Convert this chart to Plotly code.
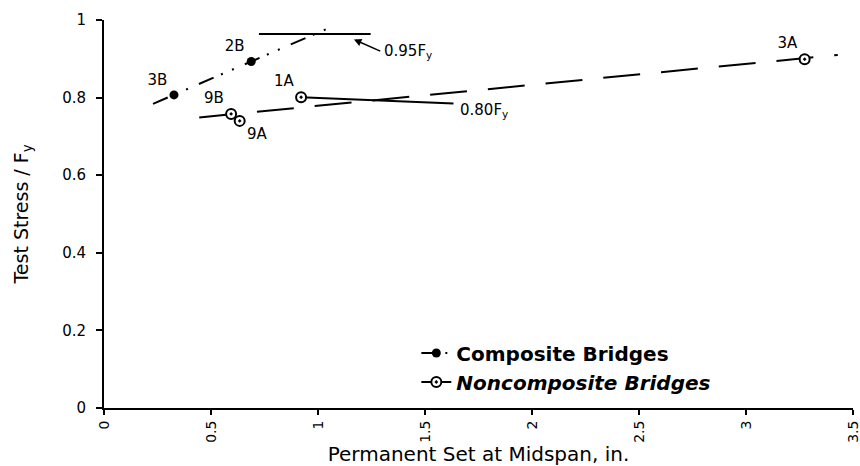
import plotly.graph_objects as go

# ---- data ----
comp_labels = ["3B", "2B"]
comp_x = [0.327, 0.688]
comp_y = [0.807, 0.893]

nonc_labels = ["9B", "9A", "1A", "3A"]
nonc_x = [0.594, 0.634, 0.921, 3.274]
nonc_y = [0.758, 0.740, 0.801, 0.899]

comp_fit_x = [0.229, 1.037]
comp_fit_y = [0.784, 0.976]

nonc_fit_x = [0.445, 3.429]
nonc_fit_y = [0.749, 0.910]

fy95_x = [0.724, 1.246]
fy95_y = [0.964, 0.964]

fy80_x = [0.921, 1.633]
fy80_y = [0.801, 0.785]

x_ticks = [0, 0.5, 1, 1.5, 2, 2.5, 3, 3.5]
x_tick_text = ["0", "0.5", "1", "1.5", "2", "2.5", "3", "3.5"]
y_ticks = [0, 0.2, 0.4, 0.6, 0.8, 1]
y_tick_text = ["0", "0.2", "0.4", "0.6", "0.8", "1"]

FONT = "DejaVu Sans"
COMP_DASH = "16px,8px,2px,10px,2px,12px"
NONC_DASH = "37px,21px"

fig = go.Figure()

# trend lines
fig.add_trace(go.Scatter(x=comp_fit_x, y=comp_fit_y, mode="lines",
                         line=dict(color="black", width=2, dash=COMP_DASH),
                         showlegend=False, hoverinfo="skip"))
fig.add_trace(go.Scatter(x=nonc_fit_x, y=nonc_fit_y, mode="lines",
                         line=dict(color="black", width=2, dash=NONC_DASH),
                         showlegend=False, hoverinfo="skip"))
# reference stress lines
fig.add_trace(go.Scatter(x=fy95_x, y=fy95_y, mode="lines",
                         line=dict(color="black", width=2),
                         showlegend=False, hoverinfo="skip"))
fig.add_trace(go.Scatter(x=fy80_x, y=fy80_y, mode="lines",
                         line=dict(color="black", width=2),
                         showlegend=False, hoverinfo="skip"))

# points
fig.add_trace(go.Scatter(x=comp_x, y=comp_y, mode="markers+text",
                         text=comp_labels, textposition=["top left", "top left"],
                         textfont=dict(family=FONT, size=15, color="black"),
                         marker=dict(symbol="circle", size=9, color="black"),
                         showlegend=False))
fig.add_trace(go.Scatter(x=nonc_x, y=nonc_y, mode="markers+text",
                         text=nonc_labels,
                         textposition=["top left", "bottom right", "top left", "top left"],
                         textfont=dict(family=FONT, size=15, color="black"),
                         marker=dict(symbol="circle-dot", size=10, color="white",
                                     line=dict(color="black", width=2)),
                         showlegend=False))

# legend-only entries
fig.add_trace(go.Scatter(x=[None], y=[None], mode="lines+markers",
                         name="<b>Composite Bridges</b>",
                         line=dict(color="black", width=2, dash=COMP_DASH),
                         marker=dict(symbol="circle", size=9, color="black")))
fig.add_trace(go.Scatter(x=[None], y=[None], mode="lines+markers",
                         name="<b><i>Noncomposite Bridges</i></b>",
                         line=dict(color="black", width=2, dash=NONC_DASH),
                         marker=dict(symbol="circle-dot", size=10, color="white",
                                     line=dict(color="black", width=2))))

fig.add_annotation(x=fy95_x[1] - 0.078, y=fy95_y[0] - 0.014, ax=1.298, ay=0.918,
                   xref="x", yref="y", axref="x", ayref="y",
                   showarrow=True, arrowhead=2, arrowsize=1, arrowwidth=1.5,
                   arrowcolor="black", text="")
fig.add_annotation(x=1.298, y=0.918, xref="x", yref="y", showarrow=False,
                   text="0.95F<sub>y</sub>", xanchor="left", yanchor="middle",
                   font=dict(family=FONT, size=15, color="black"))
fig.add_annotation(x=1.656, y=0.768, xref="x", yref="y", showarrow=False,
                   text="0.80F<sub>y</sub>", xanchor="left", yanchor="middle",
                   font=dict(family=FONT, size=15, color="black"))

fig.update_layout(
    width=860, height=466,
    margin=dict(l=104, r=7, t=20, b=58, autoexpand=False),
    plot_bgcolor="white", paper_bgcolor="white",
    font=dict(family=FONT, color="black"),
    legend=dict(x=0.417, y=0.192, xanchor="left", yanchor="top",
                font=dict(family=FONT, size=20, color="black"),
                bgcolor="rgba(0,0,0,0)", borderwidth=0, tracegroupgap=0),
)
fig.update_xaxes(range=[0, 3.5], tickvals=x_ticks, ticktext=x_tick_text,
                 tickangle=-90, showgrid=False, zeroline=False, automargin=False,
                 showline=True, linecolor="black", linewidth=2,
                 ticks="outside", ticklen=5, tickwidth=2, tickcolor="black",
                 ticklabeloverflow="allow",
                 tickfont=dict(family=FONT, size=14, color="black"),
                 title=dict(text="Permanent Set at Midspan, in.",
                            font=dict(family=FONT, size=20, color="black"),
                            standoff=8))
fig.update_yaxes(range=[0, 1], tickvals=y_ticks, ticktext=y_tick_text,
                 showgrid=False, zeroline=False, automargin=False,
                 showline=True, linecolor="black", linewidth=2,
                 ticks="outside", ticklen=6, tickwidth=2, tickcolor="black",
                 ticklabelstandoff=7,
                 tickfont=dict(family=FONT, size=15, color="black"),
                 title=dict(text="Test Stress / F<sub>y</sub>",
                            font=dict(family=FONT, size=19, color="black"),
                            standoff=28))

fig.write_html("out.html", config={"displayModeBar": False},
               post_script="document.body.style.margin='0';document.body.style.overflow='hidden';")
